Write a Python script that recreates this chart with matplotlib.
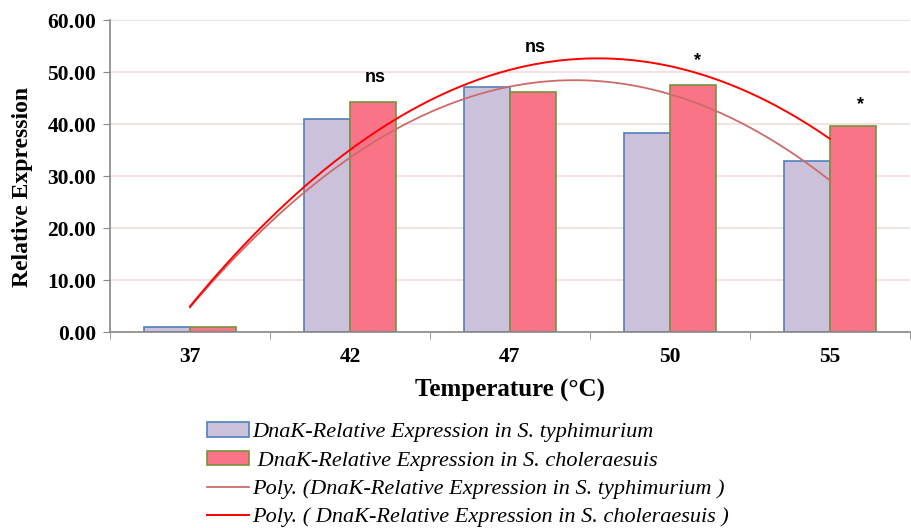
import numpy as np
import matplotlib.pyplot as plt
from matplotlib.patches import Patch
from matplotlib.lines import Line2D

# data
temps = ["37", "42", "47", "50", "55"]
typhimurium = [1.0, 41.0, 47.2, 38.3, 32.9]
choleraesuis = [1.0, 44.3, 46.2, 47.5, 39.7]
sig_labels = ["ns", "ns", "*", "*"]
sig_x = [1.16, 2.16, 3.17, 4.19]
sig_y = [49.0, 54.8, 52.2, 43.8]

lbl_t = "DnaK-Relative Expression in S. typhimurium"
lbl_c = " DnaK-Relative Expression in S. choleraesuis"
lbl_pt = "Poly. (DnaK-Relative Expression in S. typhimurium )"
lbl_pc = "Poly. ( DnaK-Relative Expression in S. choleraesuis )"

serif = "Liberation Serif"

fig = plt.figure(figsize=(9.11, 5.28), dpi=100)
ax = fig.add_axes([0.1207, 0.371, 0.878, 0.591])

x = np.arange(len(temps))
w = 0.286
ax.bar(x - w / 2, typhimurium, width=w, color="#ccc1da", edgecolor="#4f81bd", linewidth=1.2, zorder=2)
ax.bar(x + w / 2, choleraesuis, width=w, color="#f97487", edgecolor="#77933c", linewidth=1.2, zorder=2)

# 2nd order polynomial trendlines (as Excel does, over point index 1..n)
idx = np.arange(1, len(temps) + 1)
xs = np.linspace(1, len(temps), 200)
pt = np.polyfit(idx, typhimurium, 2)
pc = np.polyfit(idx, choleraesuis, 2)
ax.plot(xs - 1, np.polyval(pt, xs), color="#cd6b6b", linewidth=1.3, zorder=3)
ax.plot(xs - 1, np.polyval(pc, xs), color="#ff0000", linewidth=1.4, zorder=3)

for s, sx, sy in zip(sig_labels, sig_x, sig_y):
    ax.text(sx, sy, s, ha="center", va="center", fontsize=13, fontweight="bold",
            family="Liberation Sans", zorder=4)

ax.set_xlim(-0.5, len(temps) - 0.5)
ax.set_ylim(0, 60)
ax.set_yticks(np.arange(0, 61, 10))
ax.set_yticklabels([f"{v:.2f}" for v in np.arange(0, 61, 10)], family=serif,
                   fontweight="bold", fontsize=15.5)
ax.set_xticks(x)
ax.set_xticklabels(temps, family=serif, fontweight="bold", fontsize=15.5)
ax.set_xticks(np.arange(-0.5, len(temps), 1), minor=True)
ax.tick_params(axis="x", which="major", length=0, pad=11)
ax.tick_params(axis="x", which="minor", length=5, color="#888888")
ax.tick_params(axis="y", length=5, color="#888888", pad=5)
ax.grid(axis="y", color="#f2dcdb", linewidth=1.2, zorder=0)
ax.set_axisbelow(True)
for sp in ["top", "right"]:
    ax.spines[sp].set_visible(False)
for sp in ["left", "bottom"]:
    ax.spines[sp].set_color("#888888")
    ax.spines[sp].set_linewidth(1.2)

ax.set_ylabel("Relative Expression", family=serif, fontweight="bold", fontsize=17)
ax.yaxis.set_label_coords(-0.096, 0.465)
ax.set_xlabel("Temperature (°C)", family=serif, fontweight="bold", fontsize=18, labelpad=8)

handles = [
    Patch(facecolor="#ccc1da", edgecolor="#4f81bd", linewidth=1.2),
    Patch(facecolor="#f97487", edgecolor="#77933c", linewidth=1.2),
    Line2D([], [], color="#cd6b6b", linewidth=1.3),
    Line2D([], [], color="#ff0000", linewidth=1.4),
]
leg = fig.legend(handles, [lbl_t, lbl_c, lbl_pt, lbl_pc], loc="upper left",
                 bbox_to_anchor=(0.227, 0.2), frameon=False,
                 prop={"family": serif, "style": "italic", "size": 16},
                 handlelength=1.9, handleheight=0.6, handletextpad=0.15,
                 labelspacing=0.38, borderaxespad=0, borderpad=0)

fig.savefig("out.png", dpi=100)
